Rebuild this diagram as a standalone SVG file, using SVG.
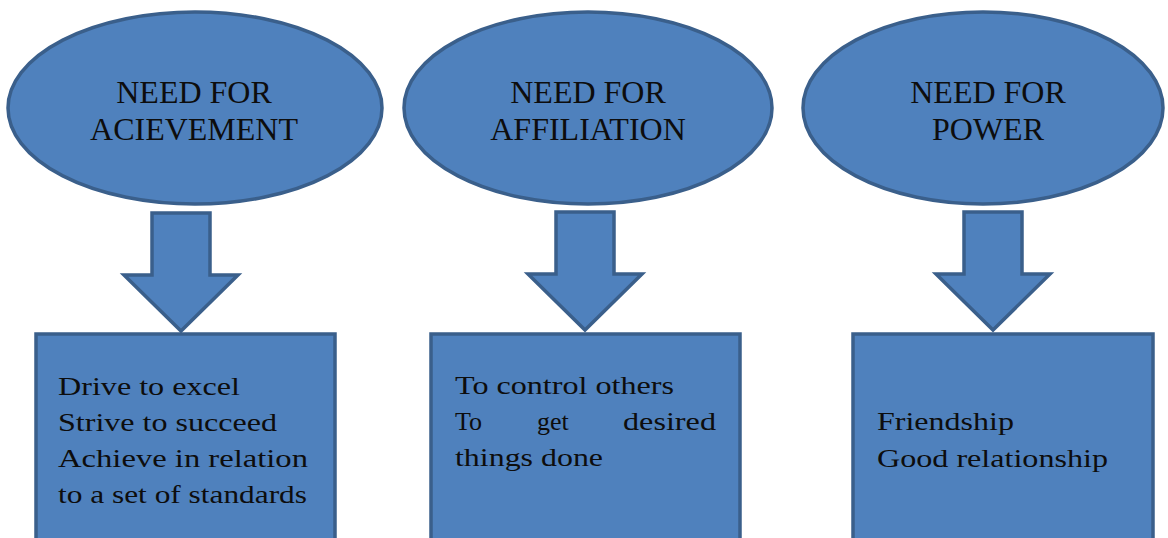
<svg xmlns="http://www.w3.org/2000/svg" width="1168" height="538" viewBox="0 0 1168 538">
  <style>
    .shape { fill: #4f81bd; stroke: #3a5f8b; stroke-width: 3.5; stroke-linejoin: miter; }
    .title { font-size: 32px; fill: #0d0d0d; text-anchor: middle; }
    .body { font-size: 26px; fill: #0d0d0d; }
  </style>
  <defs>
    <!-- block arrow pointing down, tip at origin -->
    <path id="downArrow" class="shape" d="M -29 -118 L 29 -118 L 29 -56 L 57 -56 L 0 0 L -57 -56 L -29 -56 Z"/>
  </defs>

  <rect width="1168" height="538" fill="#ffffff"/>

  <!-- block arrows between needs and descriptions -->
  <g id="connectors">
    <use href="#downArrow" transform="translate(181 331)"/>
    <use href="#downArrow" transform="translate(585 330)"/>
    <use href="#downArrow" transform="translate(993 330)"/>
  </g>

  <g font-family="Liberation Serif, Times New Roman, serif">
    <g id="need-achievement">
      <ellipse class="shape" cx="195" cy="108" rx="187" ry="96"/>
      <text class="title" x="194" y="103">NEED FOR</text>
      <text class="title" x="194" y="140">ACIEVEMENT</text>
    </g>

    <g id="need-affiliation">
      <ellipse class="shape" cx="588" cy="108" rx="184" ry="96"/>
      <text class="title" x="588" y="103">NEED FOR</text>
      <text class="title" x="588" y="140">AFFILIATION</text>
    </g>

    <g id="need-power">
      <ellipse class="shape" cx="983" cy="108" rx="180" ry="96"/>
      <text class="title" x="988" y="103">NEED FOR</text>
      <text class="title" x="988" y="140">POWER</text>
    </g>

    <g id="achievement-traits">
      <rect class="shape" x="36" y="334" width="299" height="220"/>
      <text class="body" x="58" y="395" textLength="182" lengthAdjust="spacingAndGlyphs">Drive to excel</text>
      <text class="body" x="58" y="431" textLength="219" lengthAdjust="spacingAndGlyphs">Strive to succeed</text>
      <text class="body" x="58" y="467" textLength="250" lengthAdjust="spacingAndGlyphs">Achieve in relation</text>
      <text class="body" x="58" y="503" textLength="249" lengthAdjust="spacingAndGlyphs">to a set of standards</text>
    </g>

    <g id="affiliation-traits">
      <rect class="shape" x="431" y="334" width="309" height="220"/>
      <text class="body" x="455" y="394" textLength="219" lengthAdjust="spacingAndGlyphs">To control others</text>
      <text class="body" x="455" y="430">To</text>
      <text class="body" x="537" y="430">get</text>
      <text class="body" x="623" y="430" textLength="93" lengthAdjust="spacingAndGlyphs">desired</text>
      <text class="body" x="455" y="466" textLength="148" lengthAdjust="spacingAndGlyphs">things done</text>
    </g>

    <g id="power-traits">
      <rect class="shape" x="853" y="334" width="300" height="220"/>
      <text class="body" x="877" y="430" textLength="137" lengthAdjust="spacingAndGlyphs">Friendship</text>
      <text class="body" x="877" y="467" textLength="231" lengthAdjust="spacingAndGlyphs">Good relationship</text>
    </g>
  </g>
</svg>
